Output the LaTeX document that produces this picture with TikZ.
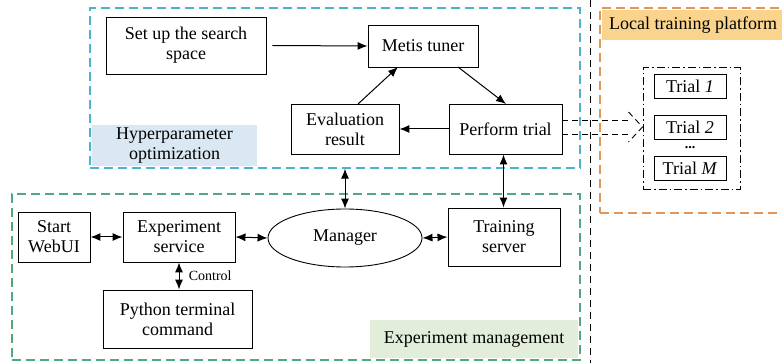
\documentclass[tikz,border=0pt]{standalone}
\usepackage{fontspec}
\setmainfont{Liberation Serif}
\usetikzlibrary{arrows.meta,calc,shapes}
\definecolor{hpoline}{RGB}{75,180,200}
\definecolor{hpofill}{RGB}{218,232,243}
\definecolor{expline}{RGB}{80,170,125}
\definecolor{expfill}{RGB}{226,238,218}
\definecolor{locline}{RGB}{225,150,90}
\definecolor{locfill}{RGB}{250,212,140}

\begin{document}
\begin{tikzpicture}[x=1pt,y=-1pt,font=\fontsize{18}{20}\selectfont,
box/.style={draw, line width=0.9pt, align=center, inner sep=0pt},
frm/.style={draw, line width=1.3pt, dash pattern=on 9pt off 5pt, inner sep=0pt},
lbl/.style={inner sep=0pt, align=center},
arr/.style={-{Latex[length=10pt,width=8pt]}, line width=1pt},
biarr/.style={{Latex[length=10pt,width=8pt]}-{Latex[length=10pt,width=8pt]}, line width=1pt}]
\useasboundingbox (0,0) rectangle (782,363);
%group labels
\node[lbl, fill=hpofill, minimum width=165pt, minimum height=41pt] (hpolbl) at (174.5,145.5) {Hyperparameter\\optimization};
\node[lbl, fill=expfill, minimum width=208pt, minimum height=38pt] (explbl) at (474,339) {Experiment management};
\node[lbl, fill=locfill, minimum width=188pt, minimum height=30pt] (locbar) at (696,25) {};
\node[lbl, anchor=west] (loclbl) at (609,25) {Local training platform};
%group frames
\node[frm, draw=hpoline, minimum width=490pt, minimum height=160pt] (hpo) at (335,88) {};
\node[frm, draw=expline, minimum width=568pt, minimum height=166pt] (exp) at (296,277) {};
\node[frm, draw=locline, minimum width=190pt, minimum height=205pt] (loc) at (695,110.5) {};
\draw[line width=1pt, dash pattern=on 7pt off 5pt] (590,0) coordinate (sepa) -- (590,363) coordinate (sepb);
%hyperparameter optimization
\node[box, minimum width=160pt, minimum height=57pt] (space) at (186,45.5) {Set up the search\\space};
\node[box, minimum width=110pt, minimum height=42pt] (metis) at (423,46) {Metis tuner};
\node[box, minimum width=108pt, minimum height=50pt] (eval) at (345,129) {Evaluation\\result};
\node[box, minimum width=113pt, minimum height=50pt] (perf) at (505.5,129) {Perform trial};
\draw[arr] ([xshift=6pt]space.east) -- (metis.west);
\draw[arr] (358,104) -- (398,67);
\draw[arr] (458,67) -- (506,104);
\draw[arr] (perf.west) -- (eval.east);
%experiment management
\node[box, minimum width=72pt, minimum height=50pt] (webui) at (54,237) {Start\\WebUI};
\node[box, minimum width=112pt, minimum height=50pt] (service) at (179,237) {Experiment\\service};
\node[draw, ellipse, line width=0.9pt, minimum width=154pt, minimum height=58pt, inner sep=0pt] (man) at (345,238) {Manager};
\node[box, minimum width=112pt, minimum height=58pt] (train) at (504,237) {Training\\server};
\node[box, minimum width=149pt, minimum height=58pt] (python) at (177.5,319) {Python terminal\\command};
\draw[biarr] (webui.east) -- (service.west);
\draw[biarr] (service.east) -- (man.west);
\draw[biarr] (man.east) -- (train.west);
\draw[biarr] (service.south) -- node[right=6pt, font=\fontsize{14}{16}\selectfont] {Control} (service.south |- python.north);
\draw[biarr] (man.north) -- (man.north |- hpo.south);
\draw[biarr] ([xshift=-2pt]perf.south) -- ([xshift=-2pt]perf.south |- train.north);
%local trials
\node[draw, line width=1pt, dash pattern=on 8pt off 3pt on 1.5pt off 3pt, minimum width=97pt, minimum height=122pt, inner sep=0pt] (trials) at (691.5,129) {};
\foreach \i/\j in {1/86,2/127,M/168}{\node[box, minimum width=72pt, minimum height=24pt] (trial\i) at (690,\j) {Trial \textit{\i}};}
\node[lbl, font=\fontsize{14}{14}\selectfont\bfseries] (dots) at (690,148) {...};
\coordinate (tip) at ([yshift=2pt]trials.west);
\draw[line width=0.9pt, dash pattern=on 6pt off 4pt] ([yshift=9pt]perf.east) -- ([yshift=9pt]perf.east -| {$(tip)+(-14pt,0)$});
\draw[line width=0.9pt, dash pattern=on 6pt off 4pt] ([yshift=-5pt]perf.east) -- ([yshift=-5pt]perf.east -| {$(tip)+(-14pt,0)$});
\draw[line width=0.9pt, dash pattern=on 6pt off 4pt] ($(tip)+(-14pt,15pt)$) -- (tip) -- ($(tip)+(-14pt,-15pt)$);
\end{tikzpicture}
\end{document}
